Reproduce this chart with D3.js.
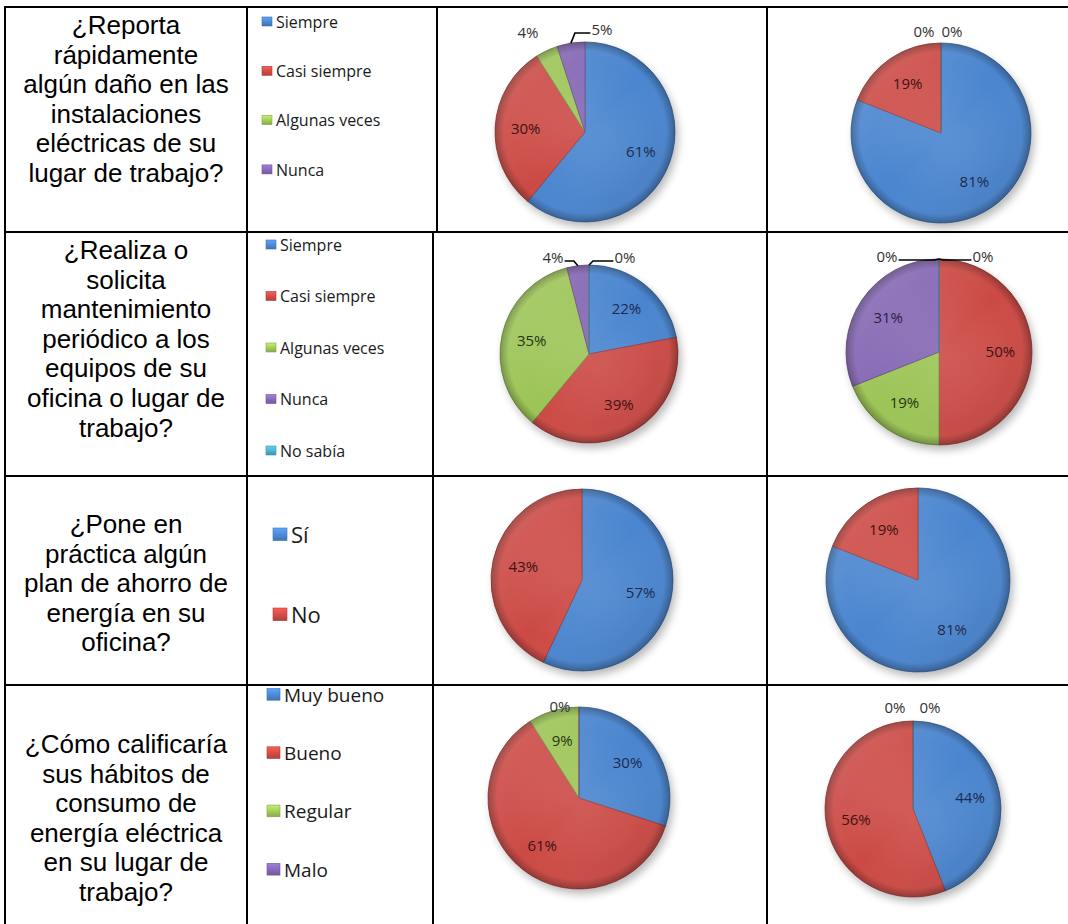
<!DOCTYPE html>
<html><head><meta charset="utf-8">
<script src="https://cdn.jsdelivr.net/npm/d3@7"></script>
<style>body{margin:0;background:#fff}svg{display:block}</style>
</head><body>
<script>
// ---------- DATA ----------
const questions = [
  ["¿Reporta","rápidamente","algún daño en las","instalaciones","eléctricas de su","lugar de trabajo?"],
  ["¿Realiza o","solicita","mantenimiento","periódico a los","equipos de su","oficina o lugar de","trabajo?"],
  ["¿Pone en","práctica algún","plan de ahorro de","energía en su","oficina?"],
  ["¿Cómo calificaría","sus hábitos de","consumo de","energía eléctrica","en su lugar de","trabajo?"]
];
const categories = [
  ["Siempre","Casi siempre","Algunas veces","Nunca"],
  ["Siempre","Casi siempre","Algunas veces","Nunca","No sabía"],
  ["Sí","No"],
  ["Muy bueno","Bueno","Regular","Malo"]
];
const valuesLeft  = [[61,30,4,5],[22,39,35,4,0],[57,43],[30,61,9,0]];
const valuesRight = [[81,19,0,0],[0,50,19,31,0],[81,19],[44,56,0,0]];
const seriesColors = ["#4a85cf","#cc4a45","#9cc456","#8466b3","#4bacc6"];
const labelColors  = ["#1c2b50","#3e1212","#24350f","#2c1d45","#123a44"];

// ---------- LAYOUT ----------
const W = 1068, H = 924;
const rowY = [7, 232, 476, 685, 924];
const colLines = [[5,247,437,767],[5,247,433,767],[5,247,433,767],[5,247,433,767]];
const textFirst = [25, 250, 524, 744];
const lineH = 29.6;
const legendLayout = [
  {x:262, y0:22,  step:49.3, font:16, box:10},
  {x:266, y0:245, step:51.5, font:16, box:10},
  {x:273, y0:535, step:80,   font:22, box:14},
  {x:267, y0:695, step:58.3, font:19, box:13}
];
const pieLeft  = [[585,132,90],[589,354,89],[582,580,91],[579,798,91]];
const pieRight = [[941,133,90],[939,352,93],[918,580,92],[913,809,88]];
// offsets (relative to pie centre) for labels of tiny slices placed outside
const outsideLeft = [
  {2:[-57,-99,false], 3:[17,-102,true]},
  {3:[-36,-96,true], 4:[36,-96,true]},
  {},
  {3:[-19,-91,false]}
];
const outsideRight = [
  {2:[-17,-101,false], 3:[11,-101,false]},
  {0:[-52,-95,true], 4:[44,-95,true]},
  {},
  {2:[-18,-101,false], 3:[17,-101,false]}
];

const svg = d3.select("body").append("svg").attr("width", W).attr("height", H)
  .style("font-family", "'Open Sans', sans-serif");
const defs = svg.append("defs");

const sh = defs.append("filter").attr("id","shadow").attr("x","-30%").attr("y","-30%").attr("width","160%").attr("height","160%");
sh.append("feGaussianBlur").attr("stdDeviation", 4);

const rg = defs.append("radialGradient").attr("id","bevel");
[[0,"#fff",0.10],[0.78,"#fff",0.0],[0.9,"#000",0.0],[1,"#000",0.28]].forEach(s =>
  rg.append("stop").attr("offset", s[0]).attr("stop-color", s[1]).attr("stop-opacity", s[2]));
const lg = defs.append("linearGradient").attr("id","light").attr("x1",0).attr("y1",0).attr("x2",1).attr("y2",1);
[[0,"#fff",0.18],[0.5,"#fff",0.0],[1,"#000",0.12]].forEach(s =>
  lg.append("stop").attr("offset", s[0]).attr("stop-color", s[1]).attr("stop-opacity", s[2]));
seriesColors.forEach((c,i) => {
  const g = defs.append("linearGradient").attr("id","mk"+i).attr("x1",0).attr("y1",0).attr("x2",0).attr("y2",1);
  g.append("stop").attr("offset",0).attr("stop-color", d3.color(c).brighter(0.6));
  g.append("stop").attr("offset",1).attr("stop-color", d3.color(c).darker(0.4));
});

// ---------- TABLE GRID ----------
const grid = svg.append("g").attr("stroke","#000").attr("stroke-width",2);
rowY.slice(0,4).forEach(y => grid.append("line").attr("x1",5).attr("x2",W).attr("y1",y).attr("y2",y));
colLines.forEach((xs,r) => xs.forEach(x =>
  grid.append("line").attr("x1",x).attr("x2",x).attr("y1",rowY[r]-1).attr("y2",rowY[r+1]+1)));

// ---------- QUESTIONS ----------
questions.forEach((lines,r) => {
  const t = svg.append("text").attr("text-anchor","middle")
    .attr("font-family","'Liberation Sans', Arial, sans-serif").attr("font-size",26).attr("fill","#000");
  lines.forEach((ln,i) => t.append("tspan").attr("x",126).attr("y", textFirst[r] + i*lineH + 9).text(ln));
});

// ---------- LEGENDS ----------
categories.forEach((cats,r) => {
  const L = legendLayout[r];
  const y = d3.scalePoint().domain(cats).range([L.y0, L.y0 + L.step*(cats.length-1)]);
  const g = svg.append("g");
  cats.forEach((c,i) => {
    g.append("rect").attr("x",L.x).attr("y",y(c)-L.box/2).attr("width",L.box).attr("height",L.box*0.9)
      .attr("fill","url(#mk"+i+")").attr("stroke",d3.color(seriesColors[i]).darker(0.5)).attr("stroke-width",0.6);
    g.append("text").attr("x",L.x+L.box+4).attr("y",y(c)).attr("dy","0.35em")
      .attr("font-size",L.font).attr("fill","#1a1a1a").text(c);
  });
});

// ---------- PIES ----------
const pie = d3.pie().sort(null).value(d => d).startAngle(0).endAngle(2*Math.PI);
function drawPie(vals, geo, outside) {
  const [cx,cy,r] = geo;
  const g = svg.append("g").attr("transform",`translate(${cx},${cy})`);
  g.append("circle").attr("cx",3).attr("cy",5).attr("r",r).attr("fill","#000").attr("opacity",0.28).attr("filter","url(#shadow)");
  const arcs = pie(vals);
  const arc = d3.arc().innerRadius(0).outerRadius(r);
  g.selectAll("path.s").data(arcs).join("path").attr("class","s")
    .attr("d",arc).attr("fill",(d,i)=>seriesColors[i])
    .attr("stroke",(d,i)=>d3.color(seriesColors[i]).darker(0.9)).attr("stroke-width",0.8)
    .attr("stroke-linejoin","round");
  g.append("circle").attr("r",r).attr("fill","url(#bevel)");
  g.append("circle").attr("r",r).attr("fill","url(#light)");
  const labArc = d3.arc().innerRadius(r*0.66).outerRadius(r*0.66);
  arcs.forEach((d,i) => {
    const o = outside[i];
    const txt = d.data + "%";
    let x, y, col;
    if (o) { x = o[0]; y = o[1]; col = "#333"; }
    else { [x,y] = labArc.centroid(d); col = labelColors[i]; }
    g.append("text").attr("x",x).attr("y",y).attr("dy","0.35em").attr("text-anchor","middle")
      .attr("font-size",15).attr("fill",col).text(txt);
    if (o && o[2]) {
      const a = (d.startAngle + d.endAngle)/2;
      const sx = r*Math.sin(a), sy = -r*Math.cos(a);
      const side = x > sx ? 1 : -1;
      const ex = x - side*(txt.length*4.3 + 3), ey = y + 3;
      g.append("path").attr("d",`M${sx},${sy}L${sx+side*4},${ey}L${ex},${ey}`)
        .attr("fill","none").attr("stroke","#000").attr("stroke-width",1.6);
    }
  });
}
valuesLeft.forEach((v,r) => drawPie(v, pieLeft[r], outsideLeft[r]));
valuesRight.forEach((v,r) => drawPie(v, pieRight[r], outsideRight[r]));
</script>
</body></html>
